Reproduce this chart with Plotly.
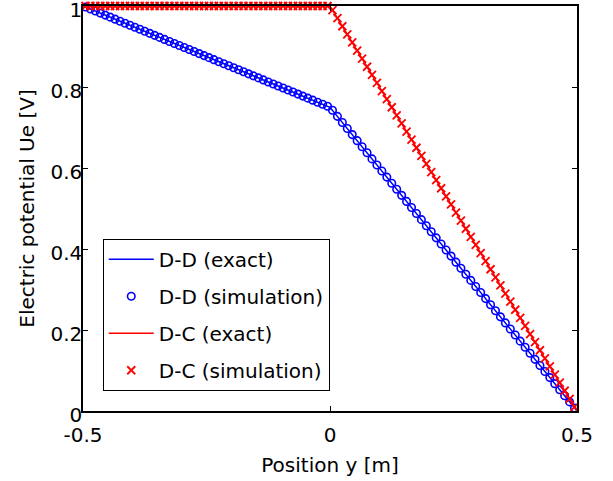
import plotly.graph_objects as go

# Exact solutions (breakpoints of piecewise-linear profiles)
x_exact = [-0.5, 0.0, 0.5]
dd_exact = [1.0, 0.75, 0.0]
dc_exact = [1.0, 1.0, 0.0]

# Simulation sample positions (cell centres)
x_sim = [
    -0.495, -0.485, -0.475, -0.465, -0.455, -0.445, -0.435, -0.425, -0.415, -0.405,
    -0.395, -0.385, -0.375, -0.365, -0.355, -0.345, -0.335, -0.325, -0.315, -0.305,
    -0.295, -0.285, -0.275, -0.265, -0.255, -0.245, -0.235, -0.225, -0.215, -0.205,
    -0.195, -0.185, -0.175, -0.165, -0.155, -0.145, -0.135, -0.125, -0.115, -0.105,
    -0.095, -0.085, -0.075, -0.065, -0.055, -0.045, -0.035, -0.025, -0.015, -0.005,
    0.005, 0.015, 0.025, 0.035, 0.045, 0.055, 0.065, 0.075, 0.085, 0.095,
    0.105, 0.115, 0.125, 0.135, 0.145, 0.155, 0.165, 0.175, 0.185, 0.195,
    0.205, 0.215, 0.225, 0.235, 0.245, 0.255, 0.265, 0.275, 0.285, 0.295,
    0.305, 0.315, 0.325, 0.335, 0.345, 0.355, 0.365, 0.375, 0.385, 0.395,
    0.405, 0.415, 0.425, 0.435, 0.445, 0.455, 0.465, 0.475, 0.485, 0.495,
]

dd_sim = [
    0.9975, 0.9925, 0.9875, 0.9825, 0.9775, 0.9725, 0.9675, 0.9625, 0.9575, 0.9525,
    0.9475, 0.9425, 0.9375, 0.9325, 0.9275, 0.9225, 0.9175, 0.9125, 0.9075, 0.9025,
    0.8975, 0.8925, 0.8875, 0.8825, 0.8775, 0.8725, 0.8675, 0.8625, 0.8575, 0.8525,
    0.8475, 0.8425, 0.8375, 0.8325, 0.8275, 0.8225, 0.8175, 0.8125, 0.8075, 0.8025,
    0.7975, 0.7925, 0.7875, 0.7825, 0.7775, 0.7725, 0.7675, 0.7625, 0.7575, 0.7525,
    0.7425, 0.7275, 0.7125, 0.6975, 0.6825, 0.6675, 0.6525, 0.6375, 0.6225, 0.6075,
    0.5925, 0.5775, 0.5625, 0.5475, 0.5325, 0.5175, 0.5025, 0.4875, 0.4725, 0.4575,
    0.4425, 0.4275, 0.4125, 0.3975, 0.3825, 0.3675, 0.3525, 0.3375, 0.3225, 0.3075,
    0.2925, 0.2775, 0.2625, 0.2475, 0.2325, 0.2175, 0.2025, 0.1875, 0.1725, 0.1575,
    0.1425, 0.1275, 0.1125, 0.0975, 0.0825, 0.0675, 0.0525, 0.0375, 0.0225, 0.0075,
]

dc_sim = [
    1.00, 1.00, 1.00, 1.00, 1.00, 1.00, 1.00, 1.00, 1.00, 1.00,
    1.00, 1.00, 1.00, 1.00, 1.00, 1.00, 1.00, 1.00, 1.00, 1.00,
    1.00, 1.00, 1.00, 1.00, 1.00, 1.00, 1.00, 1.00, 1.00, 1.00,
    1.00, 1.00, 1.00, 1.00, 1.00, 1.00, 1.00, 1.00, 1.00, 1.00,
    1.00, 1.00, 1.00, 1.00, 1.00, 1.00, 1.00, 1.00, 1.00, 1.00,
    0.99, 0.97, 0.95, 0.93, 0.91, 0.89, 0.87, 0.85, 0.83, 0.81,
    0.79, 0.77, 0.75, 0.73, 0.71, 0.69, 0.67, 0.65, 0.63, 0.61,
    0.59, 0.57, 0.55, 0.53, 0.51, 0.49, 0.47, 0.45, 0.43, 0.41,
    0.39, 0.37, 0.35, 0.33, 0.31, 0.29, 0.27, 0.25, 0.23, 0.21,
    0.19, 0.17, 0.15, 0.13, 0.11, 0.09, 0.07, 0.05, 0.03, 0.01,
]

x_ticks = [-0.5, 0, 0.5]
x_tick_labels = ["-0.5", "0", "0.5"]
y_ticks = [0, 0.2, 0.4, 0.6, 0.8, 1.0]
y_tick_labels = ["0", "0.2", "0.4", "0.6", "0.8", "1"]

BLUE = "#0000ff"
RED = "#ff0000"
FONT = "DejaVu Sans"
FS = 20

fig = go.Figure()
fig.add_trace(go.Scatter(x=x_exact, y=dd_exact, mode="lines", name="D-D (exact)",
                         line=dict(color=BLUE, width=1.5), legendgroup="a",
                         cliponaxis=False))
fig.add_trace(go.Scatter(x=x_sim, y=dd_sim, mode="markers", name="D-D (simulation)",
                         marker=dict(symbol="circle-open", size=7.5, color=BLUE,
                                     line=dict(width=1.6, color=BLUE)),
                         legendgroup="b", cliponaxis=False))
fig.add_trace(go.Scatter(x=x_exact, y=dc_exact, mode="lines", name="D-C (exact)",
                         line=dict(color=RED, width=1.5), legendgroup="c",
                         cliponaxis=False))
fig.add_trace(go.Scatter(x=x_sim, y=dc_sim, mode="markers", name="D-C (simulation)",
                         marker=dict(symbol="x-thin", size=8, color=RED,
                                     line=dict(width=1.8, color=RED)),
                         legendgroup="d", cliponaxis=False))

axis_common = dict(
    showgrid=False, zeroline=False, showline=True, linecolor="black", linewidth=1.5,
    mirror="ticks", ticks="inside", ticklen=5, tickwidth=1, tickcolor="black",
    automargin=False, ticklabeloverflow="allow",
    tickfont=dict(family=FONT, size=FS, color="black"),
)

fig.update_layout(
    width=613, height=481,
    margin=dict(l=83, r=36, t=6, b=70),
    paper_bgcolor="white", plot_bgcolor="white",
    font=dict(family=FONT, size=FS, color="black"),
    showlegend=True,
    legend=dict(x=0.04, y=0.05, xanchor="left", yanchor="bottom",
                bgcolor="white", bordercolor="black", borderwidth=1,
                traceorder="grouped", tracegroupgap=8, itemwidth=45,
                font=dict(family=FONT, size=FS, color="black")),
    xaxis=dict(range=[-0.5, 0.5], tickvals=x_ticks, ticktext=x_tick_labels,
               ticklabelstandoff=5,
               title=dict(text="Position y [m]", standoff=12,
                          font=dict(family=FONT, size=FS, color="black")),
               **axis_common),
    yaxis=dict(range=[0, 1], tickvals=y_ticks, ticktext=y_tick_labels,
               ticklabelstandoff=-5, ticklabelshift=4,
               title=dict(text="Electric potential Ue [V]", standoff=10,
                          font=dict(family=FONT, size=FS, color="black")),
               **axis_common),
)

fig.write_html("out.html", config={"displayModeBar": False},
               post_script="document.body.style.margin='0px';")
